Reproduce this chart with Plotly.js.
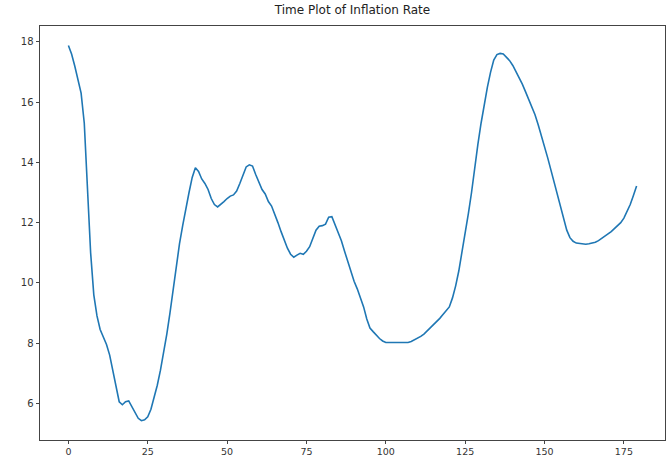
<!DOCTYPE html>
<html>
<head>
<meta charset="utf-8">
<script src="https://cdn.plot.ly/plotly-3.0.1.min.js"></script>
<style>html,body{margin:0;padding:0;background:#fff;}#chart{width:670px;height:459px;}</style>
</head>
<body>
<div id="chart"></div>
<script>
// Inflation rate readings, index 0..179
const inflation = [
  17.88, 17.6, 17.2, 16.75, 16.3, 15.3, 13.0, 11.0, 9.6, 8.9,
  8.45, 8.2, 7.95, 7.6, 7.1, 6.5, 6.05, 5.95, 6.05, 6.08,
  5.9, 5.7, 5.5, 5.42, 5.45, 5.55, 5.8, 6.2, 6.6, 7.1,
  7.65, 8.3, 9.0, 9.8, 10.6, 11.3, 11.9, 12.5, 13.0, 13.5,
  13.82, 13.7, 13.45, 13.3, 13.1, 12.8, 12.6, 12.52, 12.6, 12.7,
  12.8, 12.88, 12.92, 13.05, 13.3, 13.55, 13.85, 13.92, 13.88, 13.6,
  13.35, 13.1, 12.95, 12.7, 12.55, 12.3, 12.0, 11.7, 11.4, 11.15,
  10.95, 10.85, 10.92, 10.98, 10.95, 11.05, 11.2, 11.5, 11.75, 11.88,
  11.9, 11.95, 12.18, 12.2, 11.95, 11.7, 11.4, 11.05, 10.7, 10.35,
  10.05, 9.8, 9.5, 9.2, 8.8, 8.5, 8.38, 8.25, 8.15, 8.07,
  8.02, 8.02, 8.02, 8.02, 8.02, 8.02, 8.02, 8.02, 8.05, 8.1,
  8.15, 8.22, 8.3, 8.4, 8.52, 8.63, 8.72, 8.82, 8.95, 9.08,
  9.2, 9.5, 9.9, 10.4, 11.0, 11.65, 12.3, 13.0, 13.85, 14.6,
  15.3, 15.95, 16.5, 17.0, 17.4, 17.58, 17.62, 17.6, 17.48, 17.38,
  17.22, 17.02, 16.82, 16.6, 16.35, 16.1, 15.85, 15.58, 15.25, 14.9,
  14.52, 14.15, 13.75, 13.35, 12.95, 12.55, 12.1, 11.75, 11.5, 11.38,
  11.32, 11.3, 11.3, 11.28, 11.3, 11.32, 11.35, 11.4, 11.47, 11.55,
  11.62, 11.7, 11.8, 11.9, 12.0, 12.15, 12.35, 12.6, 12.9, 13.22
];
const timeIndex = inflation.map((_, i) => i);
const xTicks = [0, 25, 50, 75, 100, 125, 150, 175];
const yTicks = [6, 8, 10, 12, 14, 16, 18];
const chartTitle = "Time Plot of Inflation Rate";

const axisCommon = {
  showline: true, mirror: true, linecolor: '#444', linewidth: 1,
  ticks: 'outside', ticklen: 3.5, tickwidth: 1, tickcolor: '#444',
  showgrid: false, zeroline: false,
  tickfont: {family: 'DejaVu Sans', size: 10, color: '#333'}
};

Plotly.newPlot('chart', [{
  x: timeIndex, y: inflation, type: 'scatter', mode: 'lines',
  line: {color: '#1f77b4', width: 1.6}
}], {
  width: 670, height: 459,
  margin: {l: 40, r: 5, t: 26, b: 19},
  paper_bgcolor: '#fff', plot_bgcolor: '#fff',
  showlegend: false,
  title: {text: chartTitle, font: {family: 'DejaVu Sans', size: 12, color: '#222'},
          xref: 'paper', x: 0.5, xanchor: 'center', yref: 'container', y: 0.978, yanchor: 'middle'},
  xaxis: Object.assign({}, axisCommon, {range: [-8.95, 187.95], tickvals: xTicks, ticktext: xTicks.map(String),
          tickfont: {family: 'DejaVu Sans', size: 9.5, color: '#333'}, ticklen: 3}),
  yaxis: Object.assign({}, axisCommon, {range: [4.78, 18.53], tickvals: yTicks, ticktext: yTicks.map(String)})
}, {displayModeBar: false, staticPlot: true});
</script>
</body>
</html>
